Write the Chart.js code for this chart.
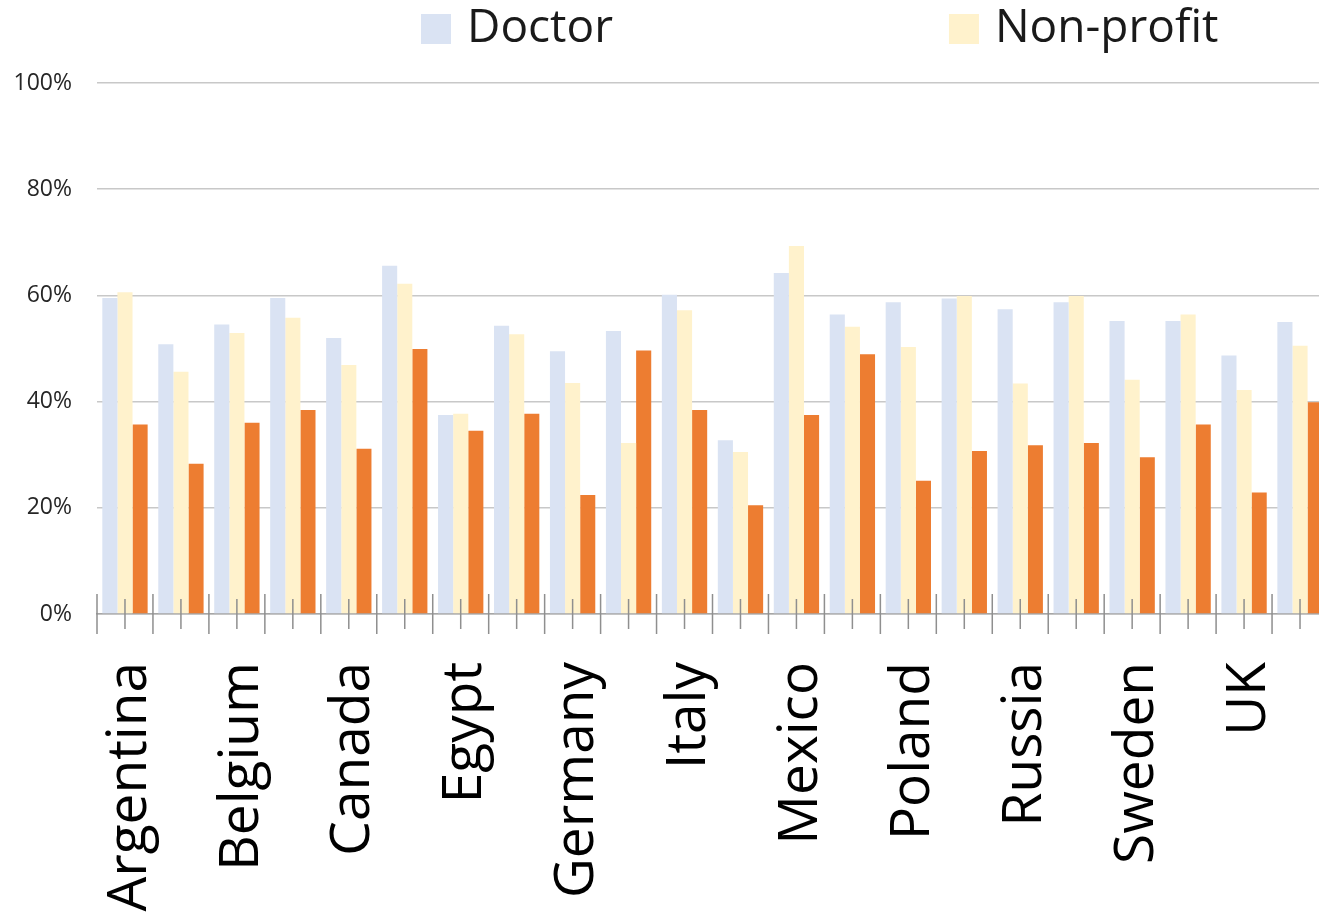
<!DOCTYPE html>
<html>
<head>
<meta charset="utf-8">
<script src="https://cdn.jsdelivr.net/npm/chart.js@4/dist/chart.umd.min.js"></script>
<style>
  html, body { margin: 0; padding: 0; background: #fff; overflow: hidden; }
  #wrap { width: 1319px; height: 912px; overflow: hidden; position: relative; }
  canvas { display: block; }
</style>
</head>
<body>
<div id="wrap"><canvas id="chart" width="1400" height="912"></canvas></div>
<script>
// Survey shares by country (percent)
const categories = ['Argentina', 'Australia', 'Belgium', 'Brazil', 'Canada', 'China', 'Egypt', 'France',
  'Germany', 'India', 'Italy', 'Japan', 'Mexico', 'Netherlands', 'Poland', 'Portugal', 'Russia', 'Spain',
  'Sweden', 'Turkey', 'UK', 'US'];
const doctor    = [59.5, 50.8, 54.5, 59.5, 52.0, 65.6, 37.5, 54.3, 49.5, 53.3, 60.1, 32.7, 64.2, 56.4, 58.7, 59.4, 57.4, 58.7, 55.2, 55.2, 48.7, 55.0];
const nonProfit = [60.6, 45.6, 52.9, 55.8, 46.9, 62.2, 37.7, 52.7, 43.5, 32.2, 57.2, 30.5, 69.3, 54.1, 50.3, 59.9, 43.4, 59.9, 44.1, 56.4, 42.2, 50.5];
const business  = [35.7, 28.3, 36.0, 38.4, 31.1, 49.9, 34.5, 37.7, 22.4, 49.6, 38.4, 20.5, 37.5, 48.9, 25.1, 30.7, 31.8, 32.2, 29.5, 35.7, 22.9, 39.9];
const yTicks = [0, 20, 40, 60, 80, 100];

const FONT = '"Open Sans", "Noto Sans", sans-serif';

// Legend row drawn across the top (only the first two series are listed)
const topLegend = {
  id: 'topLegend',
  afterDraw(chart) {
    const ctx = chart.ctx;
    ctx.save();
    ctx.font = '46px ' + FONT;
    ctx.textBaseline = 'middle';
    ctx.textAlign = 'left';
    let x = 421;
    const box = 30, boxTop = 14, gap = 336;
    chart.data.datasets.slice(0, 2).forEach(ds => {
      ctx.fillStyle = ds.backgroundColor;
      ctx.fillRect(x, boxTop, box, box);
      ctx.fillStyle = '#1a1a1a';
      ctx.fillText(ds.label, x + 46, boxTop + box / 2);
      x += 46 + ctx.measureText(ds.label).width + gap;
    });
    ctx.restore();
  }
};

// Category tick marks: long marks between groups, short marks at group centres
const categoryTicks = {
  id: 'categoryTicks',
  afterDatasetsDraw(chart) {
    const xs = chart.scales.x;
    const base = chart.chartArea.bottom;
    const ctx = chart.ctx;
    const step = xs.getPixelForValue(1) - xs.getPixelForValue(0);
    ctx.save();
    ctx.strokeStyle = '#8f8f8f';
    ctx.lineWidth = 1.5;
    ctx.beginPath();
    for (let i = 0; i < categories.length; i++) {
      const c = xs.getPixelForValue(i);
      const b = c - step / 2;
      ctx.moveTo(b, base - 20); ctx.lineTo(b, base + 20);
      ctx.moveTo(c, base - 15); ctx.lineTo(c, base + 15);
    }
    const last = xs.getPixelForValue(categories.length - 1) + step / 2;
    ctx.moveTo(last, base - 20); ctx.lineTo(last, base + 20);
    ctx.stroke();
    ctx.restore();
  }
};

new Chart(document.getElementById('chart'), {
  type: 'bar',
  data: {
    labels: categories,
    datasets: [
      { label: 'Doctor', data: doctor, backgroundColor: '#DAE3F3' },
      { label: 'Non-profit', data: nonProfit, backgroundColor: '#FFF2CC' },
      { label: 'Business', data: business, backgroundColor: '#ED7D31' }
    ]
  },
  options: {
    responsive: false,
    animation: false,
    devicePixelRatio: 1,
    categoryPercentage: 0.81,
    barPercentage: 1.0,
    layout: { padding: { top: 83, right: 72, left: 0, bottom: 0 } },
    plugins: {
      legend: { display: false },
      tooltip: { enabled: false }
    },
    scales: {
      x: {
        grid: { display: false },
        border: { display: true, color: '#a6a6a6', width: 1.5 },
        ticks: {
          autoSkip: false,
          minRotation: 90,
          maxRotation: 90,
          padding: 40,
          labelOffset: 5,
          color: '#000',
          font: { family: FONT, size: 55 },
          callback: function (value, index) {
            return index % 2 === 0 ? this.getLabelForValue(value) : '';
          }
        },
        afterFit(scale) {
          scale.height = 298;
          scale.paddingLeft = 0;
          scale.paddingRight = 0;
        }
      },
      y: {
        min: 0,
        max: 100,
        afterBuildTicks(scale) { scale.ticks = yTicks.map(v => ({ value: v })); },
        grid: { color: '#c8c8c8', lineWidth: 1.5, drawTicks: false },
        border: { display: false },
        ticks: {
          padding: 25,
          color: '#262626',
          font: { family: FONT, size: 23 },
          callback: v => v + '%'
        },
        afterFit(scale) { scale.width = 97; }
      }
    }
  },
  plugins: [topLegend, categoryTicks]
});
</script>
</body>
</html>
